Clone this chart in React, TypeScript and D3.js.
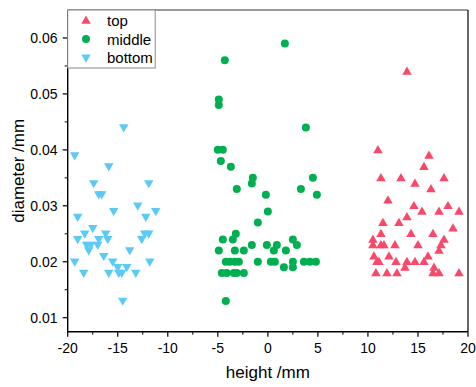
import React from "react";
import * as d3 from "d3";

const topX = [13.9, 11.0, 16.1, 15.6, 11.3, 13.3, 17.6, 14.7, 16.3, 12.0, 14.6, 18.0, 15.4, 17.1, 19.1, 13.9, 11.5, 13.1, 18.5, 11.3, 14.3, 16.5, 10.5, 17.6, 10.5, 11.3, 11.6, 12.7, 15.0, 17.3, 17.1, 10.6, 12.1, 16.0, 10.9, 11.1, 12.8, 13.9, 14.7, 15.6, 13.7, 16.6, 10.8, 11.9, 12.9, 16.5, 17.1, 19.1];
const topY = [0.054, 0.04, 0.039, 0.037, 0.035, 0.035, 0.035, 0.034, 0.033, 0.031, 0.03, 0.03, 0.029, 0.029, 0.029, 0.028, 0.027, 0.027, 0.026, 0.025, 0.025, 0.025, 0.024, 0.024, 0.023, 0.023, 0.023, 0.023, 0.023, 0.023, 0.022, 0.021, 0.021, 0.021, 0.02, 0.02, 0.02, 0.02, 0.02, 0.02, 0.019, 0.019, 0.018, 0.018, 0.018, 0.018, 0.018, 0.018];

const middleX = [1.7, -4.3, -4.9, -4.9, 3.8, -5.0, -4.5, -4.7, -3.7, -1.5, -1.6, -3.1, 4.5, 3.3, 4.9, -0.2, 0.0, -1.0, -3.2, -3.5, -4.5, -4.9, -3.3, -2.4, -1.6, -0.1, 0.9, 0.6, 1.8, 2.5, 2.9, -4.2, -3.8, -3.3, -2.9, -1.0, 0.3, 0.7, 2.5, 3.6, 4.2, 4.8, 1.6, 2.5, -4.6, -4.1, -3.4, -3.1, -2.4, -4.2];
const middleY = [0.059, 0.056, 0.049, 0.048, 0.044, 0.04, 0.04, 0.038, 0.037, 0.035, 0.034, 0.033, 0.035, 0.033, 0.032, 0.032, 0.029, 0.027, 0.025, 0.024, 0.024, 0.022, 0.022, 0.022, 0.023, 0.023, 0.023, 0.022, 0.022, 0.024, 0.023, 0.02, 0.02, 0.02, 0.02, 0.02, 0.02, 0.02, 0.02, 0.02, 0.02, 0.02, 0.019, 0.019, 0.018, 0.018, 0.018, 0.018, 0.018, 0.013];

const bottomX = [-19.3, -14.4, -15.9, -17.4, -16.9, -16.6, -11.9, -19.0, -15.4, -13.0, -11.2, -12.2, -17.5, -19.0, -18.3, -16.2, -16.9, -16.0, -18.1, -17.7, -17.9, -17.0, -16.4, -19.3, -18.4, -15.5, -15.9, -15.0, -14.9, -14.6, -14.1, -13.8, -13.2, -12.6, -12.3, -11.9, -11.8, -14.5];
const bottomY = [0.039, 0.044, 0.037, 0.034, 0.032, 0.032, 0.034, 0.028, 0.029, 0.03, 0.029, 0.028, 0.026, 0.024, 0.025, 0.025, 0.024, 0.024, 0.023, 0.023, 0.022, 0.023, 0.021, 0.02, 0.018, 0.02, 0.018, 0.019, 0.018, 0.018, 0.019, 0.022, 0.018, 0.024, 0.025, 0.025, 0.02, 0.013];

const xTicks = [-20, -15, -10, -5, 0, 5, 10, 15, 20];
const yTicks = [0.01, 0.02, 0.03, 0.04, 0.05, 0.06];
const seriesNames = ["top", "middle", "bottom"];
const colors = ["#f9496a", "#00b050", "#5bcaf7"];

const W = 476, H = 387;
const L = 67.7, R = 468, T = 10, B = 331.7;
const FONT = "'Liberation Sans', Arial, sans-serif";

function triUp(cx: number, cy: number, s: number) {
  const h = s * 0.866;
  return `M${cx},${cy - h * 0.6}L${cx + s / 2},${cy + h * 0.4}L${cx - s / 2},${cy + h * 0.4}Z`;
}
function triDown(cx: number, cy: number, s: number) {
  const h = s * 0.866;
  return `M${cx},${cy + h * 0.6}L${cx + s / 2},${cy - h * 0.4}L${cx - s / 2},${cy - h * 0.4}Z`;
}

export default function App() {
  const x = d3.scaleLinear().domain([-20, 20]).range([L, R]);
  const y = d3.scaleLinear().domain([0.0075, 0.065]).range([B, T]);
  const xMinor = d3.range(-17.5, 20, 5);
  const yMinor = d3.range(0.015, 0.06, 0.01);
  const S = 9.5;

  return (
    <svg width={W} height={H} style={{ position: "absolute", left: 0, top: 0, background: "#fff" }} fontFamily={FONT}>
      <rect x={0} y={0} width={W} height={H} fill="#fff" />
      {/* markers */}
      {bottomX.map((v, i) => (
        <path key={"b" + i} d={triDown(x(v), y(bottomY[i]), S)} fill={colors[2]} />
      ))}
      {middleX.map((v, i) => (
        <circle key={"m" + i} cx={x(v)} cy={y(middleY[i])} r={4} fill={colors[1]} />
      ))}
      {topX.map((v, i) => (
        <path key={"t" + i} d={triUp(x(v), y(topY[i]), S)} fill={colors[0]} />
      ))}
      {/* frame */}
      <line x1={L} x2={R} y1={T} y2={T} stroke="#333" strokeWidth={1} />
      <line x1={R} x2={R} y1={T} y2={B} stroke="#000" strokeWidth={1.2} />
      <line x1={L} x2={L} y1={T} y2={B + 0.7} stroke="#000" strokeWidth={1.4} />
      <line x1={L - 0.7} x2={R} y1={B} y2={B} stroke="#000" strokeWidth={1.4} />
      {/* x ticks */}
      {xTicks.map((t) => (
        <g key={"xt" + t}>
          <line x1={x(t)} x2={x(t)} y1={B} y2={B + 5} stroke="#000" strokeWidth={1.2} />
          <text x={x(t)} y={353} textAnchor="middle" fontSize={14} fill="#000">{t}</text>
        </g>
      ))}
      {xMinor.map((t) => (
        <line key={"xm" + t} x1={x(t)} x2={x(t)} y1={B} y2={B + 3} stroke="#000" strokeWidth={1} />
      ))}
      {/* y ticks */}
      {yTicks.map((t) => (
        <g key={"yt" + t}>
          <line x1={L - 5} x2={L} y1={y(t)} y2={y(t)} stroke="#000" strokeWidth={1.2} />
          <text x={57.5} y={y(t) + 5} textAnchor="end" fontSize={14} fill="#000">{t.toFixed(2)}</text>
        </g>
      ))}
      {yMinor.map((t) => (
        <line key={"ym" + t} x1={L - 3} x2={L} y1={y(t)} y2={y(t)} stroke="#000" strokeWidth={1} />
      ))}
      {/* axis titles */}
      <text x={(L + R) / 2} y={378} textAnchor="middle" fontSize={17} fill="#000">height /mm</text>
      <text transform={`translate(24,${(T + B) / 2}) rotate(-90)`} textAnchor="middle" fontSize={17} fill="#000">diameter /mm</text>
      {/* legend */}
      <rect x={L} y={T} width={87.5} height={58} fill="#fff" stroke="#8a8a8a" strokeWidth={1} />
      {seriesNames.map((n, i) => {
        const cy = 20.5 + i * 18.6;
        const cx = 86;
        return (
          <g key={"lg" + n}>
            {i === 0 && <path d={triUp(cx, cy, S)} fill={colors[0]} />}
            {i === 1 && <circle cx={cx} cy={cy} r={4} fill={colors[1]} />}
            {i === 2 && <path d={triDown(cx, cy, S)} fill={colors[2]} />}
            <text x={107} y={cy + 5.5} fontSize={15} fill="#000">{n}</text>
          </g>
        );
      })}
    </svg>
  );
}
